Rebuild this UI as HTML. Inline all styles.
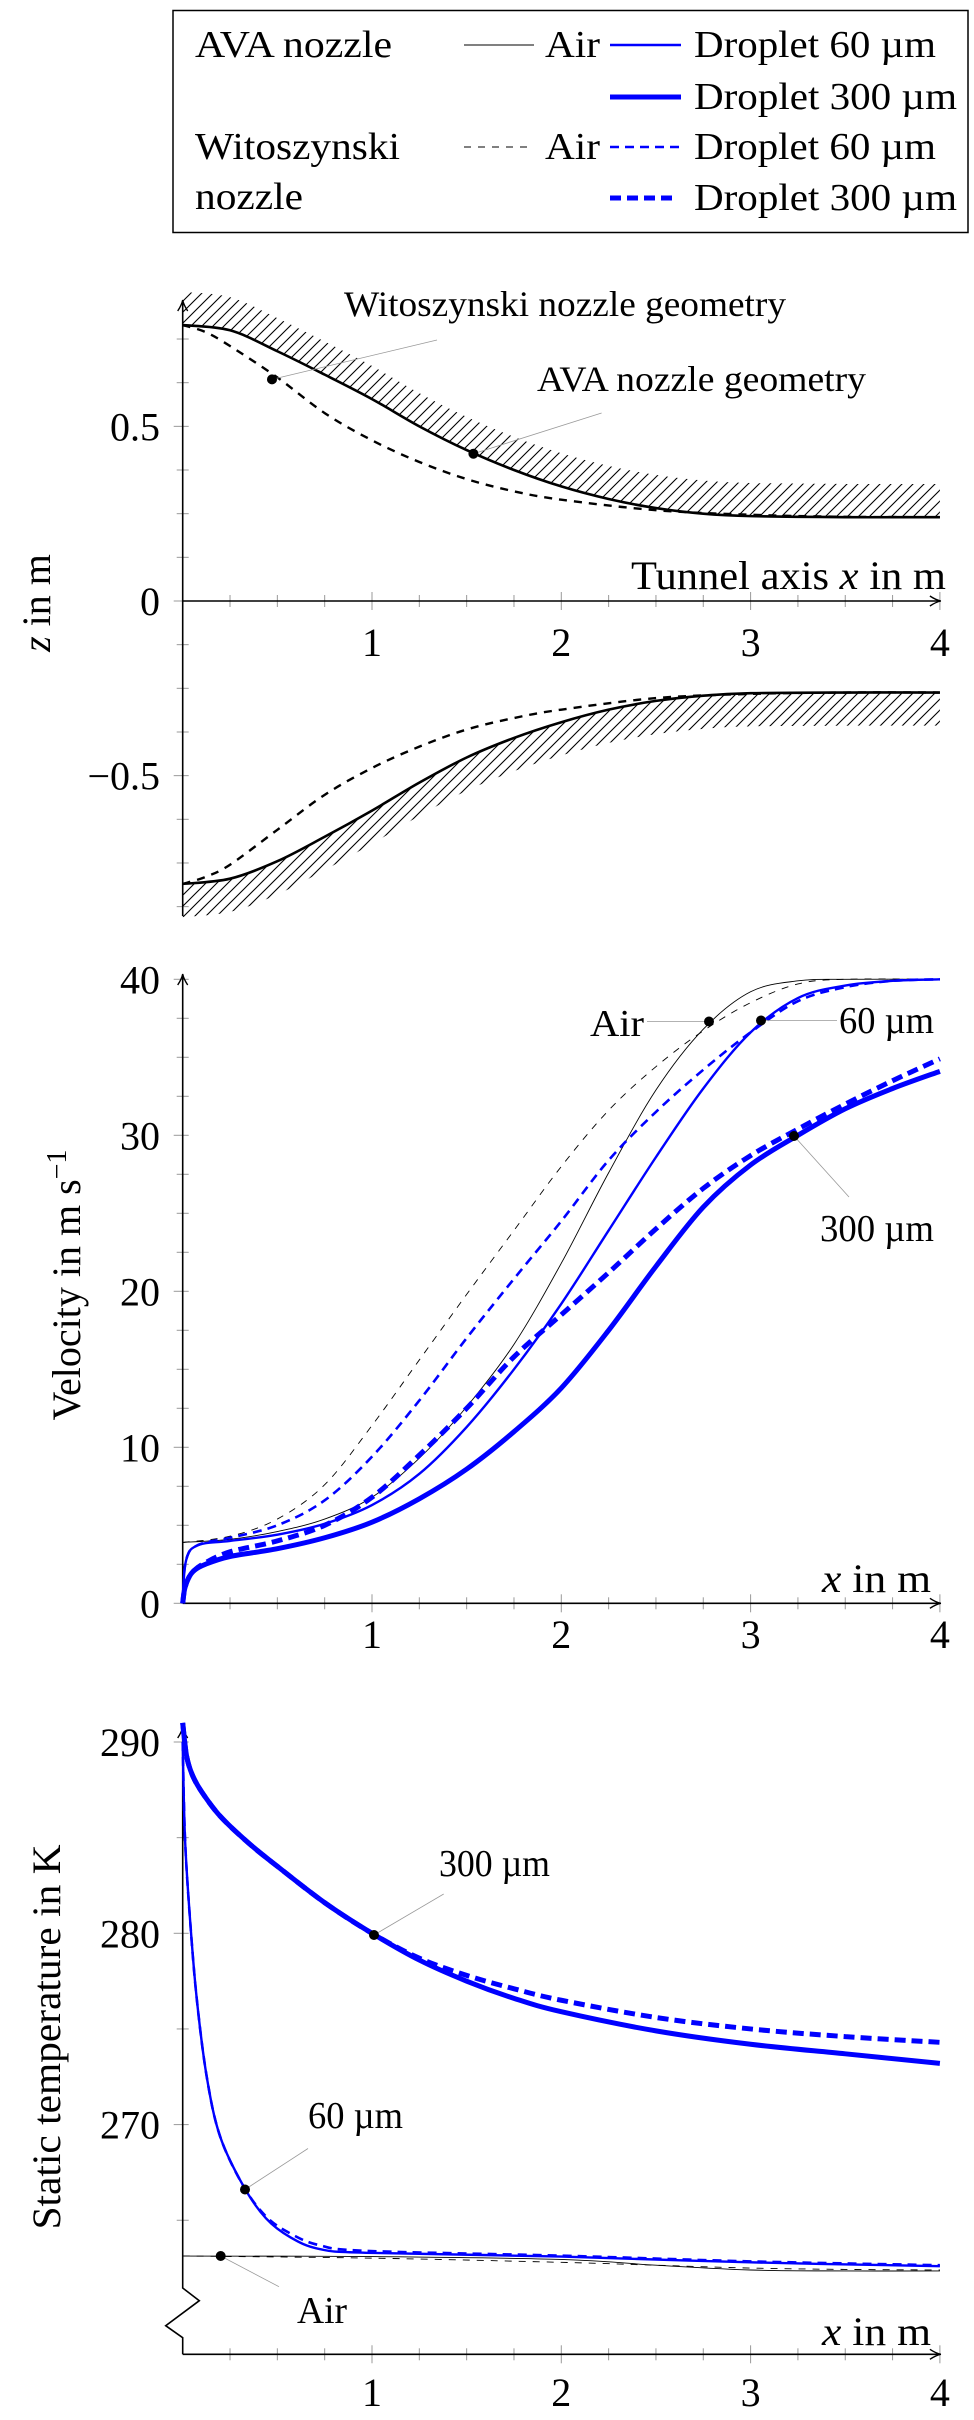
<!DOCTYPE html>
<html><head><meta charset="utf-8"><style>
html,body{margin:0;padding:0;background:#fff;}
svg{display:block;font-family:"Liberation Serif",serif;}
</style></head><body>
<svg id="fig" width="974" height="2420" viewBox="0 0 974 2420" xmlns="http://www.w3.org/2000/svg">
<defs>
<pattern id="hatch" patternUnits="userSpaceOnUse" width="11" height="11">
<path d="M-2,2 L2,-2 M0,11 L11,0 M9,13 L13,9" stroke="#000" stroke-width="1.1"/>
</pattern>
</defs>
<g id="legend">
<rect x="173" y="10.5" width="795" height="222" fill="#fff" stroke="#000" stroke-width="1.5"/>
<g font-size="38">
<text x="195" y="57" textLength="197" lengthAdjust="spacingAndGlyphs">AVA nozzle</text>
<text x="195" y="159" textLength="205" lengthAdjust="spacingAndGlyphs">Witoszynski</text>
<text x="195" y="209" textLength="108" lengthAdjust="spacingAndGlyphs">nozzle</text>
<line x1="464" y1="45" x2="534" y2="45" stroke="#000" stroke-width="0.9"/>
<text x="545" y="57" textLength="55" lengthAdjust="spacingAndGlyphs">Air</text>
<line x1="610" y1="45" x2="681" y2="45" stroke="#0000ff" stroke-width="2.5"/>
<text x="694" y="57" textLength="242" lengthAdjust="spacingAndGlyphs">Droplet 60 µm</text>
<line x1="610" y1="97" x2="681" y2="97" stroke="#0000ff" stroke-width="5"/>
<text x="694" y="109" textLength="263" lengthAdjust="spacingAndGlyphs">Droplet 300 µm</text>
<line x1="464" y1="147" x2="534" y2="147" stroke="#000" stroke-width="0.9" stroke-dasharray="7 7"/>
<text x="545" y="159" textLength="55" lengthAdjust="spacingAndGlyphs">Air</text>
<line x1="610" y1="147" x2="681" y2="147" stroke="#0000ff" stroke-width="2.5" stroke-dasharray="9 6"/>
<text x="694" y="159" textLength="242" lengthAdjust="spacingAndGlyphs">Droplet 60 µm</text>
<line x1="610" y1="198" x2="678" y2="198" stroke="#0000ff" stroke-width="5" stroke-dasharray="11 6"/>
<text x="694" y="210" textLength="263" lengthAdjust="spacingAndGlyphs">Droplet 300 µm</text>
</g>
</g>
<g id="p1"></g>
<g id="p2"></g>
<g id="p3"></g>
</svg>
<script>
// ---------- Chart 1: nozzle geometry ----------
const geoX = [0, 0.25, 0.5, 0.75, 1, 1.25, 1.5, 1.75, 2, 2.25, 2.5, 2.75, 3, 3.5, 4];
const avaUpper = [0.79, 0.775, 0.715, 0.648, 0.578, 0.5, 0.432, 0.375, 0.328, 0.292, 0.266, 0.25, 0.243, 0.24, 0.24];
const avaLower = [-0.81, -0.795, -0.745, -0.675, -0.6, -0.52, -0.448, -0.392, -0.347, -0.311, -0.286, -0.271, -0.264, -0.262, -0.262];
const witX = [0, 0.12, 0.25, 0.5, 0.75, 1, 1.25, 1.5, 1.75, 2, 2.5, 3, 3.5, 4];
const witUpper = [0.79, 0.77, 0.73, 0.64, 0.538, 0.46, 0.398, 0.349, 0.314, 0.29, 0.26, 0.247, 0.241, 0.24];
const witLower = [-0.81, -0.79, -0.755, -0.655, -0.555, -0.478, -0.417, -0.368, -0.335, -0.311, -0.278, -0.266, -0.262, -0.262];
const wallThickness = [0.095];
const geoYTicks = [-0.5, 0, 0.5];
const geoYTickLabels = ["\u22120.5", "0", "0.5"];
const xTicks = [1, 2, 3, 4];
const xTickLabels = ["1", "2", "3", "4"];

// ---------- Chart 2: velocity ----------
const velAirX = [0, 0.25, 0.5, 0.75, 1, 1.25, 1.5, 1.75, 2, 2.25, 2.5, 2.75, 3, 3.25, 3.5, 4];
const velAirAva = [3.9, 4.1, 4.6, 5.4, 6.8, 9.3, 12.6, 16.6, 21.8, 27.6, 32.9, 36.8, 39.2, 39.9, 40, 40];
const velAirWit = [3.9, 4.3, 5.4, 7.6, 11.4, 15.6, 19.8, 23.9, 28.0, 31.6, 34.4, 36.7, 38.5, 39.7, 40, 40];
const velDropX = [0, 0.01, 0.03, 0.06, 0.12, 0.25, 0.5, 0.75, 1, 1.25, 1.5, 1.75, 2, 2.25, 2.5, 2.75, 3, 3.25, 3.5, 3.75, 4];
const vel60Ava = [0, 2.2, 3.2, 3.6, 3.85, 4.0, 4.4, 5.1, 6.3, 8.3, 11.3, 15.0, 19.2, 23.9, 28.6, 33.0, 36.6, 38.8, 39.6, 39.9, 40];
const vel60Wit = [0, 2.2, 3.2, 3.6, 3.9, 4.2, 5.0, 6.6, 9.4, 13.0, 17.0, 20.8, 24.5, 28.4, 31.5, 34.2, 36.6, 38.6, 39.5, 39.9, 40];
const vel300Ava = [0, 0.9, 1.6, 2.1, 2.5, 3.0, 3.5, 4.2, 5.2, 6.7, 8.6, 11.0, 13.8, 17.5, 21.6, 25.4, 28.1, 30.0, 31.7, 33.0, 34.1];
const vel300Wit = [0, 0.9, 1.6, 2.1, 2.6, 3.3, 4.0, 5.0, 6.8, 9.5, 12.5, 15.8, 18.5, 21.2, 24.0, 26.6, 28.7, 30.4, 32.0, 33.5, 34.9];
const velYTicks = [0, 10, 20, 30, 40];
const velYTickLabels = ["0", "10", "20", "30", "40"];

// ---------- Chart 3: temperature ----------
const tAirX = [0, 1, 2, 2.5, 3, 3.5, 4];
const tAirAva = [263.13, 263.1, 262.95, 262.65, 262.4, 262.35, 262.35];
const tAirWit = [263.13, 263.02, 262.8, 262.65, 262.5, 262.43, 262.4];
const t60X = [0, 0.012, 0.039, 0.074, 0.127, 0.197, 0.32, 0.44, 0.57, 0.72, 0.97, 2, 3, 4];
const t60Ava = [290, 285, 280.7, 276.6, 272.5, 269.4, 266.8, 265.1, 264.1, 263.5, 263.3, 263.1, 262.8, 262.6];
const t60Wit = [290, 285, 280.7, 276.6, 272.5, 269.4, 266.8, 265.2, 264.3, 263.7, 263.4, 263.15, 262.85, 262.65];
const t300X = [0, 0.02, 0.05, 0.1, 0.2, 0.35, 0.5, 0.75, 1, 1.25, 1.5, 1.75, 2, 2.5, 3, 3.5, 4];
const t300Ava = [291, 289.3, 288.3, 287.4, 286.1, 284.7, 283.5, 281.6, 280, 278.6, 277.5, 276.6, 275.9, 274.9, 274.2, 273.7, 273.2];
const t300Wit = [291, 289.3, 288.3, 287.4, 286.1, 284.7, 283.5, 281.6, 280, 278.7, 277.8, 277.1, 276.5, 275.6, 275.0, 274.6, 274.3];
const tYTicks = [270, 280, 290];
const tYTickLabels = ["270", "280", "290"];

const NS = "http://www.w3.org/2000/svg";
const X0 = 182.7, XS = 189.3;
function X(v) { return X0 + v * XS; }
function Y1(z) { return 601 - z * 349.3; }
function Y2(v) { return 1603.3 - v * 15.6; }
function Y3(t) { return 2124.6 - (t - 270) * 19.13; }

function el(parent, tag, attrs) {
  const e = document.createElementNS(NS, tag);
  for (const k in attrs) e.setAttribute(k, attrs[k]);
  parent.appendChild(e);
  return e;
}
function smoothPath(pts) {
  let d = "M" + pts[0][0].toFixed(2) + "," + pts[0][1].toFixed(2);
  for (let i = 0; i < pts.length - 1; i++) {
    const p0 = pts[i - 1] || pts[i], p1 = pts[i], p2 = pts[i + 1], p3 = pts[i + 2] || p2;
    const c1x = p1[0] + (p2[0] - p0[0]) / 6, c1y = p1[1] + (p2[1] - p0[1]) / 6;
    const c2x = p2[0] - (p3[0] - p1[0]) / 6, c2y = p2[1] - (p3[1] - p1[1]) / 6;
    d += " C" + c1x.toFixed(2) + "," + c1y.toFixed(2) + " " + c2x.toFixed(2) + "," + c2y.toFixed(2) + " " + p2[0].toFixed(2) + "," + p2[1].toFixed(2);
  }
  return d;
}
function pts(xs, ys, Y) { return xs.map((x, i) => [X(x), Y(ys[i])]); }
function series(g, xs, ys, Y, stroke, w, dash, name) {
  const p = el(g, "path", { d: smoothPath(pts(xs, ys, Y)), fill: "none", stroke: stroke, "stroke-width": w });
  if (dash) p.setAttribute("stroke-dasharray", dash);
  
  
  return p;
}
function txt(g, x, y, s, size, anchor, name, len) {
  const t = el(g, "text", { x: x, y: y, "font-size": size, "text-anchor": anchor || "start" });
  t.textContent = s;
  if (len) { t.setAttribute("textLength", len); t.setAttribute("lengthAdjust", "spacingAndGlyphs"); }
  
  
  return t;
}
function dot(g, x, y, name) {
  const c = el(g, "circle", { cx: x, cy: y, r: 5, fill: "#000" });
  
  
}
function leader(g, x1, y1, x2, y2, name) {
  const l = el(g, "line", { x1: x1, y1: y1, x2: x2, y2: y2, stroke: "#999", "stroke-width": 0.8 });
  
  
}
function xAxis(g, y, name) {
  for (let v = 0.25; v <= 4.001; v += 0.25) {
    const major = Math.abs(v - Math.round(v)) < 1e-6;
    const t = el(g, "line", { x1: X(v), x2: X(v), y1: y - (major ? 9 : 6), y2: y + (major ? 9 : 6), stroke: "#999", "stroke-width": 1 });
    
    
  }
  const a = el(g, "line", { x1: X(0), y1: y, x2: X(4) - 1, y2: y, stroke: "#000", "stroke-width": 1.6 });
  
  
  const h = el(g, "path", { d: `M${X(4) - 10},${y - 5} Q${X(4) - 4},${y - 1} ${X(4) + 1},${y} Q${X(4) - 4},${y + 1} ${X(4) - 10},${y + 5}`, fill: "none", stroke: "#000", "stroke-width": 1.4 });
  
  
}
function yAxis(g, yBottom, yTop, name) {
  const a = el(g, "line", { x1: X0, y1: yBottom, x2: X0, y2: yTop + 1, stroke: "#000", "stroke-width": 1.6 });
  
  
  const h = el(g, "path", { d: `M${X0 - 5},${yTop + 10} Q${X0 - 1},${yTop + 4} ${X0},${yTop - 1} Q${X0 + 1},${yTop + 4} ${X0 + 5},${yTop + 10}`, fill: "none", stroke: "#000", "stroke-width": 1.4 });
  
  
}
function yTick(g, y, major) {
  const t = el(g, "line", { x1: X0 - (major ? 9 : 6), x2: X0 + 6, y1: y, y2: y, stroke: "#999", "stroke-width": 1 });
  
  
}
function rotLabel(g, cx, cy, name, len) {
  const t = el(g, "text", { x: 0, y: 0, "font-size": 40, "text-anchor": "middle", transform: `translate(${cx},${cy}) rotate(-90)` });
  
  
  if (len) { t.setAttribute("textLength", len); t.setAttribute("lengthAdjust", "spacingAndGlyphs"); }
  return t;
}

// ===== Chart 1 =====
(function () {
  const g = document.getElementById("p1");
  const up = pts(geoX, avaUpper, Y1), upOff = pts(geoX, avaUpper.map(v => v + wallThickness[0]), Y1);
  const lo = pts(geoX, avaLower, Y1), loOff = pts(geoX, avaLower.map(v => v - wallThickness[0]), Y1);
  const revUp = upOff.slice().reverse(), revLo = loOff.slice().reverse();
  const hu = el(g, "path", { d: smoothPath(up) + " L" + revUp[0] + " " + smoothPath(revUp).slice(1) + " Z", fill: "url(#hatch)", stroke: "none" });
  
  
  const hl = el(g, "path", { d: smoothPath(lo) + " L" + revLo[0] + " " + smoothPath(revLo).slice(1) + " Z", fill: "url(#hatch)", stroke: "none" });
  
  
  for (let k = -7; k <= 6; k++) { if (k % 4 !== 0) yTick(g, Y1(k * 0.125), false); }
  geoYTicks.forEach((v, i) => { yTick(g, Y1(v), true); txt(g, 160, Y1(v) + 14, geoYTickLabels[i], 40, "end", "y-tick-label"); });
  xAxis(g, Y1(0), "x-axis");
  yAxis(g, 916, 301, "y-axis");
  xTicks.forEach((v, i) => txt(g, X(v), 656, xTickLabels[i], 40, "middle", "x-tick-label"));
  series(g, witX, witUpper, Y1, "#000", 2.4, "8 7", "witoszynski-upper");
  series(g, witX, witLower, Y1, "#000", 2.4, "8 7", "witoszynski-lower");
  series(g, geoX, avaUpper, Y1, "#000", 2.6, null, "ava-upper");
  series(g, geoX, avaLower, Y1, "#000", 2.6, null, "ava-lower");
  leader(g, 272, 379.4, 437, 340, "witoszynski-leader");
  dot(g, 272, 379.4, "witoszynski-marker");
  leader(g, 473.4, 453.7, 601.6, 413, "ava-leader");
  dot(g, 473.4, 453.7, "ava-marker");
  txt(g, 344, 316, "Witoszynski nozzle geometry", 36, "start", "witoszynski-annotation", 442);
  txt(g, 537, 391, "AVA nozzle geometry", 36, "start", "ava-annotation", 329);
  const t = txt(g, 946, 589, "", 40, "end", "x-axis-title");
  t.setAttribute("textLength", 315); t.setAttribute("lengthAdjust", "spacingAndGlyphs");
  const a1 = el(t, "tspan", {}); a1.textContent = "Tunnel axis ";
  const a2 = el(t, "tspan", { "font-style": "italic" }); a2.textContent = "x";
  const a3 = el(t, "tspan", {}); a3.textContent = " in m";
  const yl = rotLabel(g, 50, 603, "y-axis-title");
  const b1 = el(yl, "tspan", { "font-style": "italic" }); b1.textContent = "z";
  const b2 = el(yl, "tspan", {}); b2.textContent = " in m";
})();

// ===== Chart 2 =====
(function () {
  const g = document.getElementById("p2");
  for (let v = 2.5; v < 40; v += 2.5) { if (v % 10 !== 0) yTick(g, Y2(v), false); }
  velYTicks.forEach((v, i) => { yTick(g, Y2(v), true); txt(g, 160, Y2(v) + 14, velYTickLabels[i], 40, "end", "y-tick-label"); });
  xAxis(g, Y2(0), "x-axis");
  yAxis(g, Y2(0), 975, "y-axis");
  xTicks.forEach((v, i) => txt(g, X(v), 1648, xTickLabels[i], 40, "middle", "x-tick-label"));
  series(g, velAirX, velAirWit, Y2, "#000", 0.9, "7 7", "air-witoszynski");
  series(g, velAirX, velAirAva, Y2, "#000", 0.9, null, "air-ava");
  series(g, velDropX, vel60Wit, Y2, "#0000ff", 2.6, "9 6", "droplet60-witoszynski");
  series(g, velDropX, vel60Ava, Y2, "#0000ff", 2.4, null, "droplet60-ava");
  series(g, velDropX, vel300Wit, Y2, "#0000ff", 5, "11 6", "droplet300-witoszynski");
  series(g, velDropX, vel300Ava, Y2, "#0000ff", 5, null, "droplet300-ava");
  leader(g, 647, 1021.5, 709, 1021.5, "air-leader");
  dot(g, 709, 1021.5, "air-marker");
  leader(g, 761, 1020.5, 837, 1020.5, "d60-leader");
  dot(g, 761, 1020.5, "d60-marker");
  leader(g, 794, 1136, 849, 1197, "d300-leader");
  dot(g, 794, 1136, "d300-marker");
  txt(g, 644, 1036, "Air", 38, "end", "air-annotation", 54);
  txt(g, 839, 1033, "60 µm", 38, "start", "d60-annotation", 95);
  txt(g, 820, 1241, "300 µm", 38, "start", "d300-annotation", 114);
  const t = txt(g, 931, 1592, "", 40, "end", "x-axis-title");
  t.setAttribute("textLength", 109); t.setAttribute("lengthAdjust", "spacingAndGlyphs");
  const a1 = el(t, "tspan", { "font-style": "italic" }); a1.textContent = "x";
  const a2 = el(t, "tspan", {}); a2.textContent = " in m";
  const yl = rotLabel(g, 80, 1285, "y-axis-title");
  const b1 = el(yl, "tspan", {}); b1.textContent = "Velocity in m s";
  const b2 = el(yl, "tspan", { dy: -14, "font-size": 28 }); b2.textContent = "\u22121";
})();

// ===== Chart 3 =====
(function () {
  const g = document.getElementById("p3");
  [265, 275, 285].forEach(v => yTick(g, Y3(v), false));
  tYTicks.forEach((v, i) => { yTick(g, Y3(v), true); txt(g, 160, Y3(v) + 14, tYTickLabels[i], 40, "end", "y-tick-label"); });
  xAxis(g, 2354.3, "x-axis");
  const yb = el(g, "path", { d: `M${X0},1742 L${X0},2288 L199.3,2300.7 L165.7,2325.7 L${X0},2337.7 L${X0},2354.3`, fill: "none", stroke: "#000", "stroke-width": 1.6 });
  
  
  yAxis(g, 1742, 1728, "y-axis");
  xTicks.forEach((v, i) => txt(g, X(v), 2406, xTickLabels[i], 40, "middle", "x-tick-label"));
  series(g, tAirX, tAirWit, Y3, "#000", 0.9, "7 7", "air-witoszynski");
  series(g, tAirX, tAirAva, Y3, "#000", 0.9, null, "air-ava");
  series(g, t60X, t60Wit, Y3, "#0000ff", 2.6, "9 6", "droplet60-witoszynski");
  series(g, t60X, t60Ava, Y3, "#0000ff", 2.4, null, "droplet60-ava");
  series(g, t300X, t300Wit, Y3, "#0000ff", 5, "11 6", "droplet300-witoszynski");
  series(g, t300X, t300Ava, Y3, "#0000ff", 5, null, "droplet300-ava");
  leader(g, 374, 1935, 443.7, 1894, "d300-leader");
  dot(g, 374, 1935, "d300-marker");
  leader(g, 245, 2189.5, 308, 2148.5, "d60-leader");
  dot(g, 245, 2189.5, "d60-marker");
  leader(g, 220.7, 2256, 279, 2286.7, "air-leader");
  dot(g, 220.7, 2256, "air-marker");
  txt(g, 439, 1876, "300 µm", 38, "start", "d300-annotation", 111);
  txt(g, 308, 2128, "60 µm", 38, "start", "d60-annotation", 95);
  txt(g, 297, 2323, "Air", 38, "start", "air-annotation", 50);
  const t = txt(g, 931, 2345, "", 40, "end", "x-axis-title");
  t.setAttribute("textLength", 109); t.setAttribute("lengthAdjust", "spacingAndGlyphs");
  const a1 = el(t, "tspan", { "font-style": "italic" }); a1.textContent = "x";
  const a2 = el(t, "tspan", {}); a2.textContent = " in m";
  const yl = rotLabel(g, 60, 2037, "y-axis-title", 385);
  yl.textContent = "Static temperature in K";
})();
</script>
</body></html>
